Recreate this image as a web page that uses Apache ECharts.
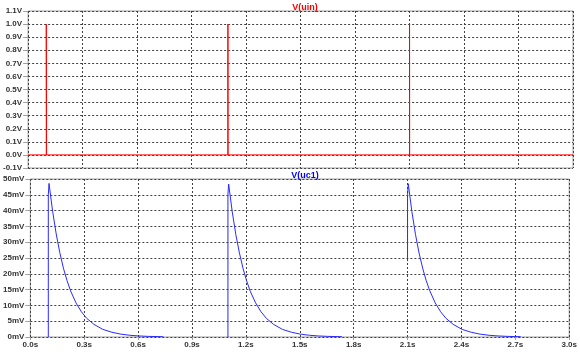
<!DOCTYPE html>
<html>
<head>
<meta charset="utf-8">
<script src="https://cdn.jsdelivr.net/npm/echarts@6/dist/echarts.min.js"></script>
<style>html,body{margin:0;padding:0;background:#fff}#c{width:580px;height:352px}</style>
</head>
<body>
<div id="c"></div>
<script>
// V(uin): time (s) and voltage (V) of the pulse train
var uinTime = [0, 0.1, 0.1, 0.1015, 0.1015, 1.1, 1.1, 1.1005, 1.1005, 2.1, 2.1, 2.1005, 2.1005, 3.0];
var uinVolt = [0, 0, 1.0, 1.0, 0, 0, 1.0, 1.0, 0, 0, 1.0, 1.0, 0, 0];

// V(uc1): three response segments (time s, mV); null breaks segments
var uc1Time = [0.1, 0.1, 0.104, 0.124, 0.144, 0.164, 0.184, 0.204, 0.224, 0.254, 0.284, 0.314, 0.354, 0.404, 0.454, 0.504, 0.554, 0.604, 0.654, 0.74, 0.9,
               1.1, 1.1, 1.104, 1.124, 1.144, 1.164, 1.184, 1.204, 1.224, 1.254, 1.284, 1.314, 1.354, 1.404, 1.454, 1.504, 1.554, 1.604, 1.654, 1.735, 1.9,
               2.1, 2.1, 2.104, 2.124, 2.144, 2.164, 2.184, 2.204, 2.224, 2.254, 2.284, 2.314, 2.354, 2.404, 2.454, 2.504, 2.554, 2.604, 2.654, 2.73];
var uc1mV   = [0, 45, 48.6, 39.8, 32.6, 26.7, 21.8, 17.9, 14.6, 10.8, 8.0, 5.9, 4.0, 2.4, 1.5, 0.9, 0.54, 0.33, 0.2, 0.09, null,
               0, 45, 48.4, 39.6, 32.4, 26.6, 21.7, 17.8, 14.5, 10.8, 8.0, 5.9, 4.0, 2.4, 1.5, 0.9, 0.54, 0.33, 0.2, 0.09, null,
               24, 45, 48.5, 39.7, 32.5, 26.6, 21.8, 17.8, 14.6, 10.8, 8.0, 5.9, 4.0, 2.4, 1.5, 0.9, 0.54, 0.33, 0.2, 0.09];

var xTicks = {min: 0, max: 3.0, interval: 0.3};
var uinTicks = {min: -0.1, max: 1.1, interval: 0.1};
var uc1Ticks = {min: 0, max: 50, interval: 5};

function pairs(t, v) { return t.map(function (x, i) { return [x, v[i]]; }); }

var font = 'Liberation Sans, Arial, sans-serif';
var gridLine = {show: true, lineStyle: {color: '#404040', type: [2, 2], width: 1}};
var labelStyle = {color: '#333', fontSize: 8, fontWeight: 'bold', fontFamily: font};

var chart = echarts.init(document.getElementById('c'), null, {renderer: 'canvas'});
chart.setOption({
  animation: false,
  title: [
    {text: 'V(uin)', left: 300, top: -2, textAlign: 'center',
     textStyle: {color: '#ff0000', fontSize: 9, fontWeight: 'bold', fontFamily: font}},
    {text: 'V(uc1)', left: 300, top: 166, textAlign: 'center',
     textStyle: {color: '#0000ff', fontSize: 9, fontWeight: 'bold', fontFamily: font}}
  ],
  grid: [
    {left: 27, right: 7, top: 11, height: 157, show: true, borderColor: '#a0a0a0', borderWidth: 1, backgroundColor: '#fff'},
    {left: 27, right: 7, top: 179, height: 158, show: true, borderColor: '#a0a0a0', borderWidth: 1, backgroundColor: '#fff'}
  ],
  xAxis: [
    {type: 'value', gridIndex: 0, min: xTicks.min, max: xTicks.max, interval: xTicks.interval,
     axisLine: {show: false}, axisTick: {show: false}, axisLabel: {show: false}, splitLine: gridLine},
    {type: 'value', gridIndex: 1, min: xTicks.min, max: xTicks.max, interval: xTicks.interval,
     axisLine: {show: false}, axisTick: {show: true, length: 3, lineStyle: {color: '#a0a0a0'}},
     axisLabel: Object.assign({margin: 4, showMinLabel: true, showMaxLabel: true,
       formatter: function (v) { return v.toFixed(1) + 's'; }}, labelStyle),
     splitLine: gridLine}
  ],
  yAxis: [
    {type: 'value', gridIndex: 0, min: uinTicks.min, max: uinTicks.max, interval: uinTicks.interval,
     axisLine: {show: false}, axisTick: {show: true, length: 5, lineStyle: {color: '#a0a0a0'}},
     axisLabel: Object.assign({margin: 6, showMinLabel: true, showMaxLabel: true,
       formatter: function (v) { return v.toFixed(1) + 'V'; }}, labelStyle),
     splitLine: gridLine},
    {type: 'value', gridIndex: 1, min: uc1Ticks.min, max: uc1Ticks.max, interval: uc1Ticks.interval,
     axisLine: {show: false}, axisTick: {show: true, length: 5, lineStyle: {color: '#a0a0a0'}},
     axisLabel: Object.assign({margin: 6, showMinLabel: true, showMaxLabel: true,
       formatter: function (v) { return Math.round(v) + 'mV'; }}, labelStyle),
     splitLine: gridLine}
  ],
  series: [
    {name: 'V(uin)', type: 'line', xAxisIndex: 0, yAxisIndex: 0, data: pairs(uinTime, uinVolt),
     symbol: 'none', lineStyle: {color: '#ff0000', width: 1}, z: 5},
    {name: 'V(uc1)', type: 'line', xAxisIndex: 1, yAxisIndex: 1, data: pairs(uc1Time, uc1mV),
     symbol: 'none', connectNulls: false, smooth: false, lineStyle: {color: '#2a2aff', width: 1}, z: 5}
  ]
});
</script>
</body>
</html>
